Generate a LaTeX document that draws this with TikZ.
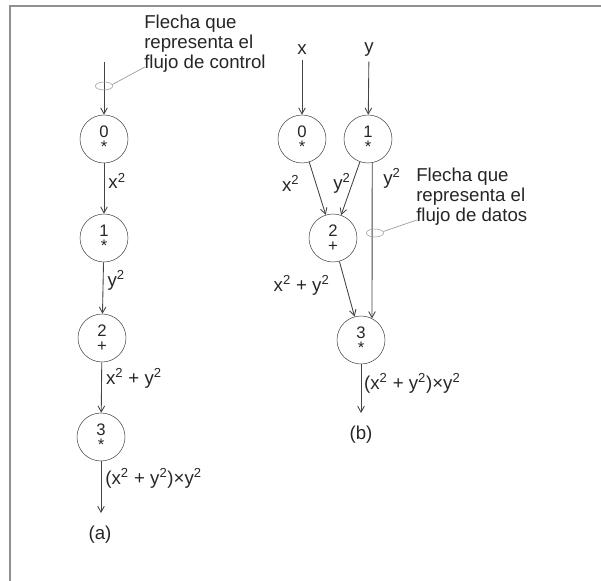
\documentclass[tikz,border=0pt]{standalone}
\usepackage{fontspec}
\setmainfont{Liberation Sans}
\usetikzlibrary{arrows.meta,shapes.geometric,calc}
\definecolor{inkline}{HTML}{444444}
\definecolor{frameline}{HTML}{909090}
\definecolor{leadline}{HTML}{999999}
\newcommand{\sq}[1]{#1\textsuperscript{2}}
\begin{document}
\begin{tikzpicture}[
    x=0.75pt, y=-0.75pt,
    >={Straight Barb[length=4.5pt,width=5pt]},
    every node/.style={text=black!85, font=\fontsize{14}{15}\selectfont},
    op/.style={draw=inkline, circle, minimum size=36pt, inner sep=0pt, align=center,
        font=\fontsize{12.5}{11}\selectfont},
    flow/.style={->, draw=inkline, line width=0.65pt},
    lbl/.style={inner sep=3pt},
    note/.style={align=left, anchor=north west, inner sep=0pt},
    tag/.style={draw=leadline, ellipse, minimum width=13pt, minimum height=6pt, inner sep=0pt},
    leader/.style={draw=leadline, line width=0.5pt}
]
\useasboundingbox (0,0) rectangle (601,581);
\draw[frameline, line width=1.5pt] (9.5,581) -- (9.5,5.8) -- (601,5.8);

% (a) control flow
\coordinate (ain) at (104,62);
\node[op] (a0) at (104,139) {0\\*};
\node[op] (a1) at (104,238) {1\\*};
\node[op] (a2) at (102,338) {2\\+};
\node[op] (a3) at (101,437) {3\\*};
\coordinate (aout) at (101,513);
\node (acap) at (100,535) {(a)};

\draw[flow] (ain) -- (a0);
\draw[flow] (a0) -- node[lbl, pos=.35, anchor=west] {\sq{x}} (a1);
\draw[flow] (a1) -- node[lbl, pos=.36, anchor=west] {\sq{y}} (a2);
\draw[flow] (a2) -- node[lbl, pos=.31, anchor=west] {\sq{x} + \sq{y}} (a3);
\draw[flow] (a3) -- node[lbl, pos=.33, anchor=west] {(\sq{x} + \sq{y})×\sq{y}} (aout);

\node[tag] (ctl) at (104,86) {};
\node[note] (ctlnote) at (144,15) {Flecha que\\representa el\\flujo de control};
\draw[leader] (ctl.10) -- ($(ctlnote.south west)+(1,-6)$);

% (b) data flow
\node (bx) at (302,50) {x};
\node (by) at (369,50) {y};
\node[op] (b0) at (302,139) {0\\*};
\node[op] (b1) at (368,139) {1\\*};
\node[op] (b2) at (333,238) {2\\+};
\node[op] (b3) at (361,340) {3\\*};
\coordinate (bout) at (361,413);
\node (bcap) at (361,435) {(b)};

\draw[flow] (bx) -- (b0);
\draw[flow] (by) -- (b1);
\draw[flow] (b0) -- node[lbl, pos=.4, anchor=east, xshift=-9pt] {\sq{x}} (b2);
\draw[flow] (b1) -- node[pos=.4, anchor=east, inner sep=1pt] {\sq{y}} (b2);
\draw[flow] (b1.-80) -- node[lbl, pos=.1, anchor=west, xshift=5pt] {\sq{y}} (b3.63);
\draw[flow] (b2) -- node[lbl, pos=.43, anchor=east, xshift=-9pt] {\sq{x} + \sq{y}} (b3);
\draw[flow] (b3) -- node[lbl, pos=.39, anchor=west, inner sep=2pt] {(\sq{x} + \sq{y})×\sq{y}} (bout);

\node[tag] (dat) at (375,233) {};
\node[note] (datnote) at (416,168) {Flecha que\\representa el\\flujo de datos};
\draw[leader] (dat.10) -- ($(datnote.south west)+(1,-6)$);
\end{tikzpicture}
\end{document}
